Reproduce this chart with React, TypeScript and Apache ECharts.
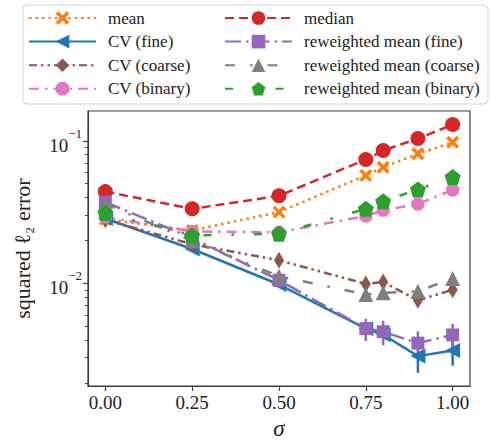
import React, { useEffect, useRef } from 'react';
import * as echarts from 'echarts';

// ---- data ----
const sigma = [0, 0.25, 0.5, 0.75, 0.8, 0.9, 1.0];
const meanVals = [0.0281, 0.0235, 0.0316, 0.0572, 0.0652, 0.0812, 0.0976];
const medianVals = [0.044, 0.0333, 0.0411, 0.0741, 0.0855, 0.1038, 0.13];
const cvFineVals = [0.0285, 0.0174, 0.0098, 0.0048, 0.00435, 0.00308, 0.00337];
const cvCoarseVals = [0.0279, 0.0188, 0.0145, 0.0099, 0.0102, 0.0076, 0.009];
const cvBinaryVals = [0.0292, 0.0231, 0.0228, 0.0297, 0.0325, 0.036, 0.0452];
const rwFineVals = [0.0371, 0.0208, 0.0105, 0.00481, 0.00457, 0.0038, 0.00434];
const rwCoarseVals = [0.036, 0.0198, 0.0112, 0.00834, 0.00857, 0.00878, 0.0108];
const rwBinaryVals = [0.0312, 0.0217, 0.0223, 0.0333, 0.0376, 0.0456, 0.0557];

// error bars (lower / upper)
const cvFineErrSigma = [0.9, 1.0];
const cvFineLow = [0.00235, 0.00264];
const cvFineHigh = [0.0038, 0.0041];
const rwFineErrSigma = [0.75, 0.8, 0.9, 1.0];
const rwFineLow = [0.00393, 0.00368, 0.00325, 0.00352];
const rwFineHigh = [0.00564, 0.00546, 0.00459, 0.0052];

const legendLeftNames = ['mean', 'CV (fine)', 'CV (coarse)', 'CV (binary)'];
const legendRightNames = ['median', 'reweighted mean (fine)', 'reweighted mean (coarse)', 'reweighted mean (binary)'];

const yMajor = [0.01, 0.1];
const yMinor = [0.002, 0.003, 0.004, 0.005, 0.006, 0.007, 0.008, 0.009, 0.02, 0.03, 0.04, 0.05, 0.06, 0.07, 0.08, 0.09];
const xTicks = [0, 0.25, 0.5, 0.75, 1.0];

const FONT = 'Liberation Serif, DejaVu Serif, serif';
const AXIS_COLOR = '#404040';
const TEXT_COLOR = '#222';

const octagonPath = (() => {
  const pts: string[] = [];
  for (let k = 0; k < 8; k++) {
    const a = ((22.5 + 45 * k) * Math.PI) / 180;
    pts.push(`${(Math.cos(a)).toFixed(4)},${(Math.sin(a)).toFixed(4)}`);
  }
  return 'path://M' + pts.join(' L') + ' Z';
})();
const pentagonPath = 'path://M0,-1 L0.951,-0.309 L0.588,0.809 L-0.588,0.809 L-0.951,-0.309 Z';
const xPath = 'path://M-1,-0.62 L-0.62,-1 L0,-0.38 L0.62,-1 L1,-0.62 L0.38,0 L1,0.62 L0.62,1 L0,0.38 L-0.62,1 L-1,0.62 L-0.38,0 Z';

const pairs = (vals: number[]) => sigma.map((s, i) => [s, vals[i]]);

function lineSeries(name: string, vals: number[], color: string, dash: any, symbol: string, size: any, extra: any = {}) {
  return {
    name,
    type: 'line',
    data: pairs(vals),
    symbol,
    symbolSize: size,
    showSymbol: true,
    itemStyle: { color },
    lineStyle: { color, width: 2.5, type: dash },
    emphasis: { disabled: true },
    ...extra,
  };
}

function errSeries(xs: number[], lo: number[], hi: number[], color: string) {
  return {
    type: 'custom',
    silent: true,
    data: xs.map((x, i) => [x, lo[i], hi[i]]),
    encode: { x: 0, y: [1, 2] },
    renderItem: (params: any, api: any) => {
      const p1 = api.coord([api.value(0), api.value(1)]);
      const p2 = api.coord([api.value(0), api.value(2)]);
      return {
        type: 'line',
        shape: { x1: p1[0], y1: p1[1], x2: p2[0], y2: p2[1] },
        style: { stroke: color, lineWidth: 2.5 },
      };
    },
  };
}

const legendText = { fontFamily: FONT, fontSize: 17, color: TEXT_COLOR, padding: [0, 0, 0, 7] };

export default function App() {
  const ref = useRef<HTMLDivElement>(null);
  useEffect(() => {
    if (!ref.current) return;
    const chart = echarts.init(ref.current, undefined, { renderer: 'svg' });
    const legendCommon = {
      orient: 'vertical',
      top: 9.5,
      padding: 0,
      itemWidth: 67,
      itemHeight: 17,
      itemGap: 6.6,
      z: 5,
      textStyle: legendText,
    };
    const option: any = {
      animation: false,
      backgroundColor: '#fff',
      textStyle: { fontFamily: FONT },
      graphic: [
        {
          type: 'rect',
          z: 1,
          shape: { x: 23, y: 5, width: 465, height: 99, r: 4 },
          style: { fill: '#fff', stroke: '#d4d4d4', lineWidth: 1 },
        },
      ],
      legend: [
        { ...legendCommon, left: 28, data: legendLeftNames },
        { ...legendCommon, left: 224, data: legendRightNames },
      ],
      grid: {
        left: 88,
        right: 20,
        top: 111,
        bottom: 51,
        show: true,
        borderColor: AXIS_COLOR,
        borderWidth: 1.2,
        backgroundColor: 'transparent',
      },
      xAxis: {
        type: 'value',
        min: -0.05,
        max: 1.05,
        splitLine: { show: false },
        axisLine: { show: true, onZero: false, lineStyle: { color: AXIS_COLOR, width: 1.2 } },
        axisTick: { show: true, customValues: xTicks, length: 5, lineStyle: { color: AXIS_COLOR, width: 1.2 } },
        axisLabel: {
          customValues: xTicks,
          formatter: (v: number) => v.toFixed(2),
          fontFamily: FONT,
          fontSize: 19,
          color: TEXT_COLOR,
          margin: 7,
        },
        name: 'σ',
        nameLocation: 'middle',
        nameGap: 31,
        nameTextStyle: { fontFamily: FONT, fontSize: 23, fontStyle: 'italic', color: TEXT_COLOR },
      },
      yAxis: [
        {
          type: 'log',
          logBase: 10,
          min: 0.0019,
          max: 0.162,
          position: 'left',
          splitLine: { show: false },
          minorTick: { show: false },
          axisLine: { show: true, onZero: false, lineStyle: { color: AXIS_COLOR, width: 1.2 } },
          axisTick: { show: true, customValues: yMajor, length: 5, lineStyle: { color: AXIS_COLOR, width: 1.2 } },
          axisLabel: {
            customValues: yMajor,
            margin: 6,
            formatter: (v: number) => {
              const e = Math.round(Math.log10(v));
              return `{b|10}{s|${e < 0 ? '\u2212' : ''}${Math.abs(e)}}`;
            },
            rich: {
              b: { fontFamily: FONT, fontSize: 19, color: TEXT_COLOR, lineHeight: 28, verticalAlign: 'bottom' },
              s: { fontFamily: FONT, fontSize: 13, color: TEXT_COLOR, verticalAlign: 'top' },
            },
          },
          name: 'squared ℓ₂ error',
          nameLocation: 'middle',
          nameRotate: 90,
          nameGap: 55,
          nameTextStyle: { fontFamily: FONT, fontSize: 22, color: TEXT_COLOR },
        },
        {
          type: 'log',
          logBase: 10,
          min: 0.0019,
          max: 0.162,
          position: 'left',
          splitLine: { show: false },
          axisLine: { show: false, onZero: false },
          axisLabel: { show: false },
          axisTick: { show: true, customValues: yMinor, length: 3, lineStyle: { color: AXIS_COLOR, width: 1 } },
        },
      ],
      series: [
        lineSeries('mean', meanVals, '#ff7f0e', [2.5, 4], xPath, 13),
        errSeries(cvFineErrSigma, cvFineLow, cvFineHigh, '#1f77b4'),
        lineSeries('CV (fine)', cvFineVals, '#1f77b4', 'solid', 'triangle', 15, { symbolRotate: 90 }),
        lineSeries('CV (coarse)', cvCoarseVals, '#8c564b', [8, 4, 2.5, 4, 2.5, 4], 'diamond', [10, 17]),
        lineSeries('CV (binary)', cvBinaryVals, '#e377c2', [10, 6, 2.5, 6], octagonPath, 13),
        lineSeries('median', medianVals, '#d62728', [9, 5], 'circle', 15),
        errSeries(rwFineErrSigma, rwFineLow, rwFineHigh, '#9467bd'),
        lineSeries('reweighted mean (fine)', rwFineVals, '#9467bd', [16, 5, 2.5, 5], 'rect', 13),
        lineSeries('reweighted mean (coarse)', rwCoarseVals, '#7f7f7f', [10, 15, 2.5, 15], 'triangle', 15),
        lineSeries('reweighted mean (binary)', rwBinaryVals, '#2ca02c', [8, 20, 2.5, 20], pentagonPath, 16),
      ],
    };
    chart.setOption(option);
    return () => chart.dispose();
  }, []);
  return <div ref={ref} style={{ width: 490, height: 445, position: 'absolute', left: 0, top: 0 }} />;
}
